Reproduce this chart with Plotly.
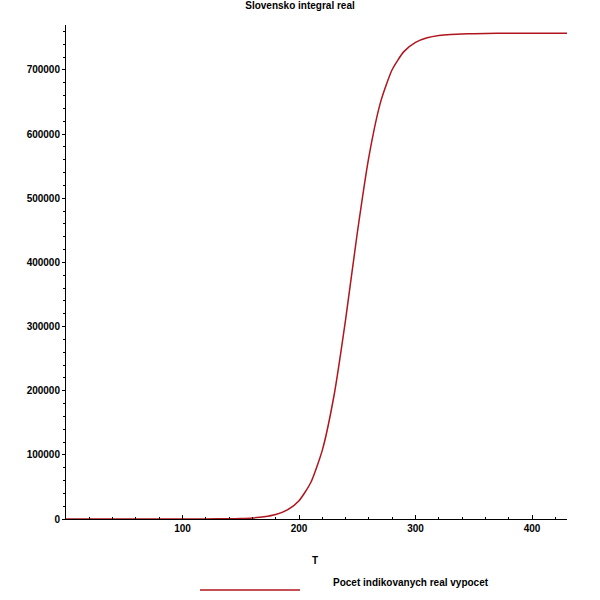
import plotly.graph_objects as go

T = [0, 20, 40, 60, 80, 100, 120, 140, 150, 160, 170, 180, 190, 200, 210, 220, 230, 240,
     250, 260, 270, 280, 290, 300, 310, 320, 330, 340, 350, 370, 400, 430]
N = [0, 0, 0, 0, 10, 30, 100, 390, 810, 1660, 3410, 6940, 14150, 28560, 56500, 107400,
     192100, 311200, 445800, 565000, 649800, 700600, 728500, 742900, 750000, 753600,
     755300, 756000, 756500, 757000, 757000, 757000]
title = "Slovensko integral real"
series_name = "Pocet indikovanych real vypocet"
x_title = "T"

font = dict(family="Liberation Sans Narrow, Arial Narrow, Liberation Sans, Arial", size=10, color="black")

fig = go.Figure(go.Scatter(x=T, y=N, mode="lines", line=dict(color="#b0141c", width=1.5, shape="spline", smoothing=0.6),
                           name=series_name, showlegend=False))
fig.update_layout(
    width=600, height=600, paper_bgcolor="white", plot_bgcolor="white",
    margin=dict(l=66, r=33, t=25, b=81, autoexpand=False), font=font,
    title=dict(text="<b>"+title+"</b>", x=0.5, xanchor="center", y=0.997, yanchor="top",
               font=dict(size=10)),
    xaxis=dict(range=[0, 430], showgrid=False, zeroline=False, automargin=False,
               showline=True, linecolor="black", linewidth=1, ticks="inside", ticklen=4,
               tickcolor="black", tickfont=dict(size=10),
               tickvals=[100, 200, 300, 400], ticktext=["<b>100</b>", "<b>200</b>", "<b>300</b>", "<b>400</b>"],
               minor=dict(ticks="inside", ticklen=2, dtick=20, tick0=0, tickcolor="black")),
    yaxis=dict(range=[0, 770000], showgrid=False, zeroline=False, automargin=False,
               showline=True, linecolor="black", linewidth=1, ticks="outside", ticklen=3,
               tickcolor="black",
               tickvals=[0, 100000, 200000, 300000, 400000, 500000, 600000, 700000],
               ticktext=["<b>%d</b>" % v for v in [0, 100000, 200000, 300000, 400000, 500000, 600000, 700000]],
               minor=dict(ticks="outside", ticklen=2, dtick=20000, tick0=0, tickcolor="black")),
)
fig.add_annotation(text="<b>"+x_title+"</b>", xref="paper", yref="paper", x=(315-66)/501, y=-(568-519)/494,
                   showarrow=False, font=dict(size=10))
fig.add_shape(type="line", xref="paper", yref="paper", x0=(200-66)/501, x1=(300-66)/501,
              y0=-(590-519)/494, y1=-(590-519)/494, line=dict(color="#b0141c", width=1.5))
fig.add_annotation(text="<b>"+series_name+"</b>", xref="paper", yref="paper", x=(331-66)/501,
                   xanchor="left", y=-(590-519)/494, showarrow=False, font=dict(size=10))
fig.write_html("out.html", post_script="document.body.style.margin='0';",
               config={"displayModeBar": False})
